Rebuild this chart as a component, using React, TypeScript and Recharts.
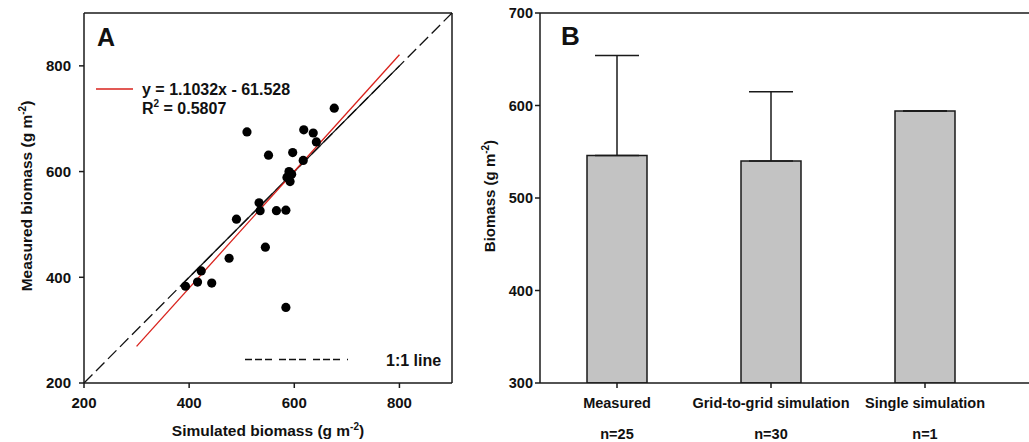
import React from 'react';
import {
  ComposedChart, Scatter, XAxis, YAxis, ReferenceLine, BarChart, Bar, ErrorBar,
} from 'recharts';

// ---------- Panel A data ----------
const simulated = [676, 510, 618, 636, 642, 551, 597, 617, 590, 586, 592, 589, 533, 535, 566, 584, 490, 545, 476, 423, 393, 416, 443, 584, 595];
const measured = [720, 675, 679, 673, 656, 631, 636, 621, 600, 589, 581, 592, 541, 526, 526, 527, 510, 457, 436, 412, 383, 391, 389, 343, 595];
const regressionEnds = [{ x: 300, y: 269.4 }, { x: 800, y: 821.0 }];
const oneToOneEnds = [{ x: 200, y: 200 }, { x: 900, y: 900 }];
const oneToOneSolid = [{ x: 385, y: 385 }, { x: 800, y: 800 }];
const ticksA = [200, 400, 600, 800];

// ---------- Panel B data ----------
const categories = ['Measured', 'Grid-to-grid simulation', 'Single simulation'];
const counts = ['n=25', 'n=30', 'n=1'];
const means = [546, 540, 594];
const upperErr = [108, 75, 0];
const ticksB = [300, 400, 500, 600, 700];

const scatterData = simulated.map((x, i) => ({ x, y: measured[i] }));
const barData = categories.map((name, i) => ({ name, n: counts[i], mean: means[i], err: [0, upperErr[i]] }));

const FONT = '"Liberation Sans", Arial, Helvetica, sans-serif';
const AX = '#1a1a1a';

const Dot = (props: any) => <circle cx={props.cx} cy={props.cy} r={4.6} fill="#000" />;

const CatTick = (props: any) => {
  const { x, y, payload, index } = props;
  return (
    <g>
      <text x={x} y={y + 18} textAnchor="middle" fontFamily={FONT} fontWeight="bold" fontSize={14.5} fill="#111">{payload.value}</text>
      <text x={x} y={y + 49} textAnchor="middle" fontFamily={FONT} fontWeight="bold" fontSize={14.5} fill="#111">{counts[index]}</text>
    </g>
  );
};

const tickStyleA = { fontFamily: FONT, fontWeight: 'bold', fontSize: 15, fill: '#111' } as any;
const tickStyleB = { fontFamily: FONT, fontWeight: 'bold', fontSize: 14.5, fill: '#111' } as any;

export default function App() {
  return (
    <div style={{ position: 'absolute', left: 0, top: 0, width: 1029, height: 442, background: '#fff', overflow: 'hidden' }}>
      {/* Panel A */}
      <div style={{ position: 'absolute', left: 0, top: 0 }}>
        <ComposedChart width={470} height={442} margin={{ top: 13, right: 18, left: 24, bottom: 29 }} data={scatterData}>
          <XAxis type="number" dataKey="x" domain={[200, 900]} ticks={ticksA} allowDataOverflow
            height={30} tickSize={5} tickMargin={9} tick={tickStyleA}
            axisLine={{ stroke: AX, strokeWidth: 1.5 }} tickLine={{ stroke: AX, strokeWidth: 1.5 }} />
          <YAxis type="number" dataKey="y" domain={[200, 900]} ticks={ticksA} allowDataOverflow
            width={60} tickSize={5} tickMargin={8} tick={tickStyleA}
            axisLine={{ stroke: AX, strokeWidth: 1.5 }} tickLine={{ stroke: AX, strokeWidth: 1.5 }} />
          <ReferenceLine x={900} stroke={AX} strokeWidth={1.5} />
          <ReferenceLine y={900} stroke={AX} strokeWidth={1.5} />
          <ReferenceLine segment={oneToOneEnds} stroke="#111" strokeWidth={1.3} strokeDasharray="12 5" />
          <ReferenceLine segment={oneToOneSolid} stroke="#111" strokeWidth={1.3} />
          <ReferenceLine segment={regressionEnds} stroke="#d9221c" strokeWidth={1.3} />
          <Scatter data={scatterData} dataKey="y" shape={Dot} isAnimationActive={false} />
        </ComposedChart>
        <svg width={470} height={442} style={{ position: 'absolute', left: 0, top: 0, pointerEvents: 'none' }}>
          <text x={97} y={45.5} fontFamily={FONT} fontWeight="bold" fontSize={25} fill="#111">A</text>
          <line x1={96} y1={89} x2={133} y2={89} stroke="#d9221c" strokeWidth={1.5} />
          <text x={142} y={95} fontFamily={FONT} fontWeight="bold" fontSize={16} fill="#111">y = 1.1032x - 61.528</text>
          <text x={142} y={114} fontFamily={FONT} fontWeight="bold" fontSize={16} fill="#111">
            R<tspan fontSize={10} dy={-7}>2</tspan><tspan dy={7}> = 0.5807</tspan>
          </text>
          <line x1={245} y1={359.5} x2={348} y2={359.5} stroke="#111" strokeWidth={1.6} strokeDasharray="7 3 7 3 7 7" />
          <text x={386} y={366} fontFamily={FONT} fontWeight="bold" fontSize={16} fill="#111">1:1 line</text>
          <text x={268} y={436} textAnchor="middle" fontFamily={FONT} fontWeight="bold" fontSize={15.5} fill="#111">
            Simulated biomass (g m<tspan fontSize={10} dy={-6}>-2</tspan><tspan dy={6}>)</tspan>
          </text>
          <text transform="translate(32,196) rotate(-90)" textAnchor="middle" fontFamily={FONT} fontWeight="bold" fontSize={15.5} fill="#111">
            Measured biomass (g m<tspan fontSize={10} dy={-6}>-2</tspan><tspan dy={6}>)</tspan>
          </text>
        </svg>
      </div>

      {/* Panel B */}
      <div style={{ position: 'absolute', left: 470, top: 0 }}>
        <BarChart width={559} height={442} margin={{ top: 13, right: 0, left: 20, bottom: 9 }} data={barData}>
          <XAxis dataKey="name" type="category" height={50} padding={{ left: 0, right: 27 }}
            tickSize={5} tickMargin={2} tick={<CatTick />} interval={0}
            axisLine={{ stroke: AX, strokeWidth: 1.5 }} tickLine={{ stroke: AX, strokeWidth: 1.5 }} />
          <YAxis type="number" domain={[300, 700]} ticks={ticksB} allowDataOverflow
            width={50} tickSize={5} tickMargin={2} tick={tickStyleB}
            axisLine={{ stroke: AX, strokeWidth: 1.5 }} tickLine={{ stroke: AX, strokeWidth: 1.5 }} />
          <ReferenceLine y={700} stroke={AX} strokeWidth={1.5} />
          <Bar dataKey="mean" barSize={60} fill="#c3c3c3" stroke="#1a1a1a" strokeWidth={1.5} isAnimationActive={false}>
            <ErrorBar dataKey="err" width={22} stroke="#1a1a1a" strokeWidth={1.5} direction="y" />
          </Bar>
        </BarChart>
        <svg width={559} height={442} style={{ position: 'absolute', left: 0, top: 0, pointerEvents: 'none' }}>
          <text x={91} y={45} fontFamily={FONT} fontWeight="bold" fontSize={26} fill="#111">B</text>
          <text transform="translate(24.5,196) rotate(-90)" textAnchor="middle" fontFamily={FONT} fontWeight="bold" fontSize={15} fill="#111">
            Biomass (g m<tspan fontSize={10} dy={-6}>-2</tspan><tspan dy={6}>)</tspan>
          </text>
        </svg>
      </div>
    </div>
  );
}
